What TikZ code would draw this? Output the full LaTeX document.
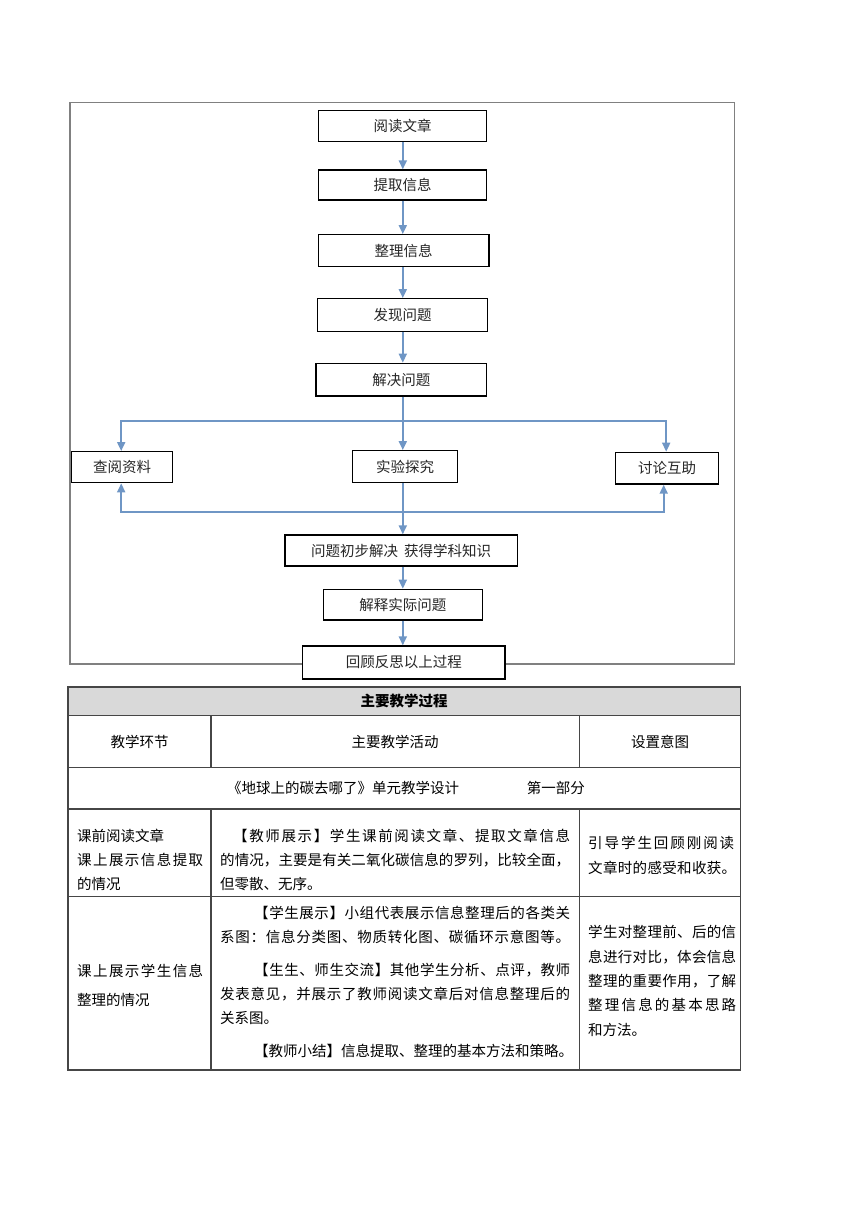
\documentclass[tikz,border=0pt]{standalone}
\usepackage{fontspec}
\newfontfamily\cjk{Noto Sans CJK SC}
\usetikzlibrary{arrows.meta}
\definecolor{arrowblue}{RGB}{111,150,197}
\definecolor{framegray}{RGB}{128,128,128}
\definecolor{headgray}{RGB}{217,217,217}
\definecolor{tabline}{RGB}{70,70,70}
\ExplSyntaxOn
\NewDocumentCommand \spreadline { m m }
  { \makebox [ #1 ] [ s ] { \tl_map_inline:nn { #2 } { ##1 \hfil } \unskip } }
\ExplSyntaxOff
\begin{document}
\begin{tikzpicture}[x=1pt,y=-1pt,
  flowbox/.style={draw=black, fill=white, line width=1.3pt, inner sep=0pt, text=black!85,
    font=\cjk\fontsize{14.5pt}{14.5pt}\selectfont},
  arr/.style={draw=arrowblue, line width=1.8pt, -{Triangle[length=9pt,width=8pt]}},
  tx/.style={anchor=west, inner sep=0pt, font=\cjk\fontsize{14.5pt}{14.5pt}\selectfont},
  ctx/.style={inner sep=0pt, font=\cjk\fontsize{14.5pt}{14.5pt}\selectfont},
  tab/.style={draw=tabline, line width=1.1pt}]
\useasboundingbox (0,0) rectangle (860,1216);
% outer frame
\draw[draw=framegray, line width=1.2pt] (70,102.7) rectangle (734.3,664);
% flow boxes
\node[flowbox, minimum width=168.4pt, minimum height=31pt]   (n1) at (402.5,126.2) {阅读文章};
\node[flowbox, minimum width=168.4pt, minimum height=30pt]   (n2) at (402.5,185)   {提取信息};
\node[flowbox, minimum width=170.7pt, minimum height=32pt]   (n3) at (403.6,250.7) {整理信息};
\node[flowbox, minimum width=170pt,   minimum height=32.6pt] (n4) at (402.5,315)   {发现问题};
\node[flowbox, minimum width=170.7pt, minimum height=32.7pt] (n5) at (401.3,379.7) {解决问题};
\node[flowbox, minimum width=101pt,   minimum height=31pt]   (b1) at (122.2,467.2) {查阅资料};
\node[flowbox, minimum width=105pt,   minimum height=32pt]   (b2) at (405,466.7)   {实验探究};
\node[flowbox, minimum width=103pt,   minimum height=31.7pt] (b3) at (667.2,468.2) {讨论互助};
\node[flowbox, minimum width=232.3pt, minimum height=31pt]   (m1) at (401.2,550.5) {问题初步解决\hspace{6pt}获得学科知识};
\node[flowbox, minimum width=159pt,   minimum height=30.7pt] (m2) at (402.8,604.7) {解释实际问题};
\node[flowbox, minimum width=202.3pt, minimum height=33pt]   (m3) at (403.8,662.5) {回顾反思以上过程};
% connectors
\coordinate (colx) at (402.8,0);
\draw[arr] (n1.south -| colx) -- (n2.north -| colx);
\draw[arr] (n2.south -| colx) -- (n3.north -| colx);
\draw[arr] (n3.south -| colx) -- (n4.north -| colx);
\draw[arr] (n4.south -| colx) -- (n5.north -| colx);
\draw[arr] (n5.south -| colx) -- (b2.north -| colx);
\coordinate (br) at (402.8,420.7);
\draw[arr] (br) -| ([xshift=-1pt]b1.north);
\draw[arr] (br) -| ([xshift=-1pt]b3.north);
\coordinate (mg) at (402.8,511.7);
\draw[arr] (mg) -| ([xshift=-1pt]b1.south);
\draw[arr] (mg) -| ([xshift=-3.5pt]b3.south);
\draw[arr] (b2.south -| colx) -- (m1.north -| colx);
\draw[arr] (m1.south -| colx) -- (m2.north -| colx);
\draw[arr] (m2.south -| colx) -- (m3.north -| colx);
% table
\fill[headgray] (68,687) rectangle (740.5,715.7);
\draw[tab] (68,687) rectangle (740.5,1070);
\draw[tab] (68,715.7) -- (740.5,715.7);
\draw[tab] (68,767.7) -- (740.5,767.7);
\draw[tab] (68,809) -- (740.5,809);
\draw[tab] (68,896.7) -- (740.5,896.7);
\draw[tab] (211,715.7) -- (211,767.7);
\draw[tab] (579.5,715.7) -- (579.5,767.7);
\draw[tab] (211,809) -- (211,1070);
\draw[tab] (579.5,809) -- (579.5,1070);
\node[ctx, font=\cjk\bfseries\fontsize{14.5pt}{14.5pt}\selectfont] (h0) at (404,701) {主要教学过程};
\node[ctx] (h1) at (139.5,742) {教学环节};
\node[ctx] (h2) at (395,742) {主要教学活动};
\node[ctx] (h3) at (660,742) {设置意图};
\node[tx] (p0) at (227,788) {《地球上的碳去哪了》单元教学设计};
\node[tx, anchor=east] (p0b) at (585,788) {第一部分};
% row 4
\node[tx] (a1) at (77,836) {课前阅读文章};
\node[tx] (a2) at (77,860) {\spreadline{126pt}{课上展示信息提取}};
\node[tx] (a3) at (77,884) {的情况};
\node[tx] (b4a) at (233,836) {\spreadline{337pt}{【教师展示】学生课前阅读文章、提取文章信息}};
\node[tx] (b4b) at (220,860) {\spreadline{350pt}{的情况，主要是有关二氧化碳信息的罗列，比较全面，}};
\node[tx] (b4c) at (220,884) {但零散、无序。};
\node[tx] (c4a) at (588,843) {\spreadline{146pt}{引导学生回顾刚阅读}};
\node[tx] (c4b) at (588,868) {\spreadline{148pt}{文章时的感受和收获。}};
% row 5
\node[tx] (a5a) at (77,971) {\spreadline{126pt}{课上展示学生信息}};
\node[tx] (a5b) at (77,1000) {整理的情况};
\node[tx] (b5a) at (254,913) {\spreadline{316pt}{【学生展示】小组代表展示信息整理后的各类关}};
\node[tx] (b5b) at (220,937) {\spreadline{350pt}{系图：信息分类图、物质转化图、碳循环示意图等。}};
\node[tx] (b5c) at (254,970) {\spreadline{316pt}{【生生、师生交流】其他学生分析、点评，教师}};
\node[tx] (b5d) at (220,994) {\spreadline{350pt}{发表意见，并展示了教师阅读文章后对信息整理后的}};
\node[tx] (b5e) at (220,1018) {关系图。};
\node[tx] (b5f) at (254,1051) {【教师小结】信息提取、整理的基本方法和策略。};
\node[tx] (c5a) at (588,932) {\spreadline{148pt}{学生对整理前、后的信}};
\node[tx] (c5b) at (588,957) {\spreadline{148pt}{息进行对比，体会信息}};
\node[tx] (c5c) at (588,981) {\spreadline{148pt}{整理的重要作用，了解}};
\node[tx] (c5d) at (588,1005) {\spreadline{148pt}{整理信息的基本思路}};
\node[tx] (c5e) at (588,1030) {和方法。};
\end{tikzpicture}
\end{document}
